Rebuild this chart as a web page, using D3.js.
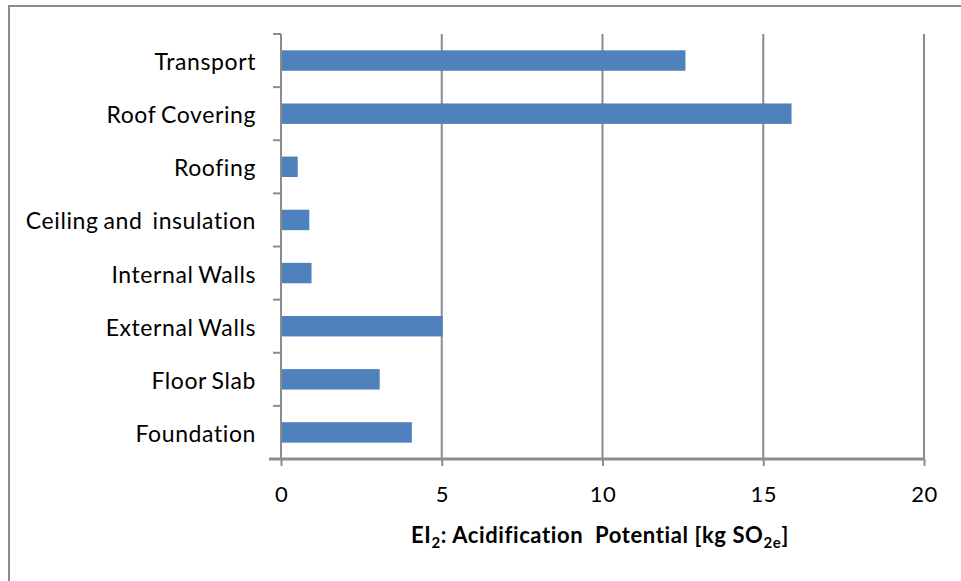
<!DOCTYPE html>
<html>
<head>
<meta charset="utf-8">
<script src="https://cdn.jsdelivr.net/npm/d3@7"></script>
<style>
  html, body { margin: 0; padding: 0; background: #fff; }
  svg { display: block; }
</style>
</head>
<body>
<svg id="chart" width="961" height="581"></svg>
<script>
// Acidification potential by building element
const categories = ["Transport", "Roof Covering", "Roofing", "Ceiling and  insulation",
                    "Internal Walls", "External Walls", "Floor Slab", "Foundation"];
const values = [12.58, 15.88, 0.52, 0.88, 0.95, 5.03, 3.07, 4.07];
const xTicks = [0, 5, 10, 15, 20];

const svg = d3.select("#chart");
const font = "Lato, 'Open Sans', sans-serif";
const gray = "#8c8c8c";

// outer frame
svg.append("rect")
  .attr("x", 9).attr("y", 6).attr("width", 980).attr("height", 600)
  .attr("fill", "none").attr("stroke", gray).attr("stroke-width", 2);

const margin = { left: 281, right: 924, top: 34, bottom: 459 };

const x = d3.scaleLinear().domain([0, 20]).range([margin.left, margin.right]);
const y = d3.scaleBand().domain(categories).range([margin.top, margin.bottom])
  .paddingInner(0.615).paddingOuter(0.3075);

// vertical gridlines
svg.append("g").selectAll("line")
  .data(xTicks.filter(d => d > 0))
  .join("line")
  .attr("x1", d => x(d)).attr("x2", d => x(d))
  .attr("y1", margin.top).attr("y2", margin.bottom)
  .attr("stroke", gray).attr("stroke-width", 2);

// bars
svg.append("g").selectAll("rect")
  .data(categories)
  .join("rect")
  .attr("x", x(0))
  .attr("y", d => y(d))
  .attr("width", (d, i) => x(values[i]) - x(0))
  .attr("height", y.bandwidth())
  .attr("fill", "#4f81bd");

// category axis with ticks at band boundaries
const yAxisG = svg.append("g");
yAxisG.append("line")
  .attr("x1", x(0)).attr("x2", x(0))
  .attr("y1", margin.top).attr("y2", margin.bottom)
  .attr("stroke", gray).attr("stroke-width", 2);
const step = (margin.bottom - margin.top) / categories.length;
yAxisG.selectAll("line.tick")
  .data(d3.range(categories.length + 1))
  .join("line")
  .attr("class", "tick")
  .attr("x1", x(0) - 8).attr("x2", x(0))
  .attr("y1", i => margin.top + i * step).attr("y2", i => margin.top + i * step)
  .attr("stroke", gray).attr("stroke-width", 2);
yAxisG.selectAll("text")
  .data(categories)
  .join("text")
  .attr("x", 256)
  .attr("y", d => y(d) + y.bandwidth() / 2 + 9.5)
  .attr("text-anchor", "end")
  .attr("font-family", font)
  .attr("font-size", 23)
  .attr("letter-spacing", 0.6)
  .attr("word-spacing", -1.5)
  .attr("fill", "#000")
  .style("white-space", "pre")
  .text(d => d);

// value axis
const xAxis = d3.axisBottom(x).tickValues(xTicks).tickSize(7).tickPadding(20)
  .tickFormat(d3.format("d"));
const xAxisG = svg.append("g")
  .attr("transform", `translate(0,${margin.bottom})`)
  .call(xAxis);
xAxisG.select(".domain").attr("stroke", gray).attr("stroke-width", 3)
  .attr("d", `M${x(0) - 12},0H${x(20)}`);
xAxisG.selectAll(".tick line").attr("stroke", gray).attr("stroke-width", 2);
xAxisG.selectAll(".tick text")
  .attr("font-family", font).attr("font-size", 22).attr("letter-spacing", 0.5)
  .attr("fill", "#000");

// axis title
const title = svg.append("text")
  .attr("x", 600).attr("y", 543)
  .attr("text-anchor", "middle")
  .attr("font-family", font)
  .attr("font-size", 22)
  .attr("font-weight", "bold")
  .attr("letter-spacing", 0.6)
  .attr("fill", "#000")
  .style("white-space", "pre");
title.append("tspan").text("EI");
title.append("tspan").attr("font-size", 15).attr("dy", 5).text("2");
title.append("tspan").attr("dy", -5).text(": Acidification  Potential [kg SO");
title.append("tspan").attr("font-size", 15).attr("dy", 5).text("2e");
title.append("tspan").attr("dy", -5).text("]");
</script>
</body>
</html>
